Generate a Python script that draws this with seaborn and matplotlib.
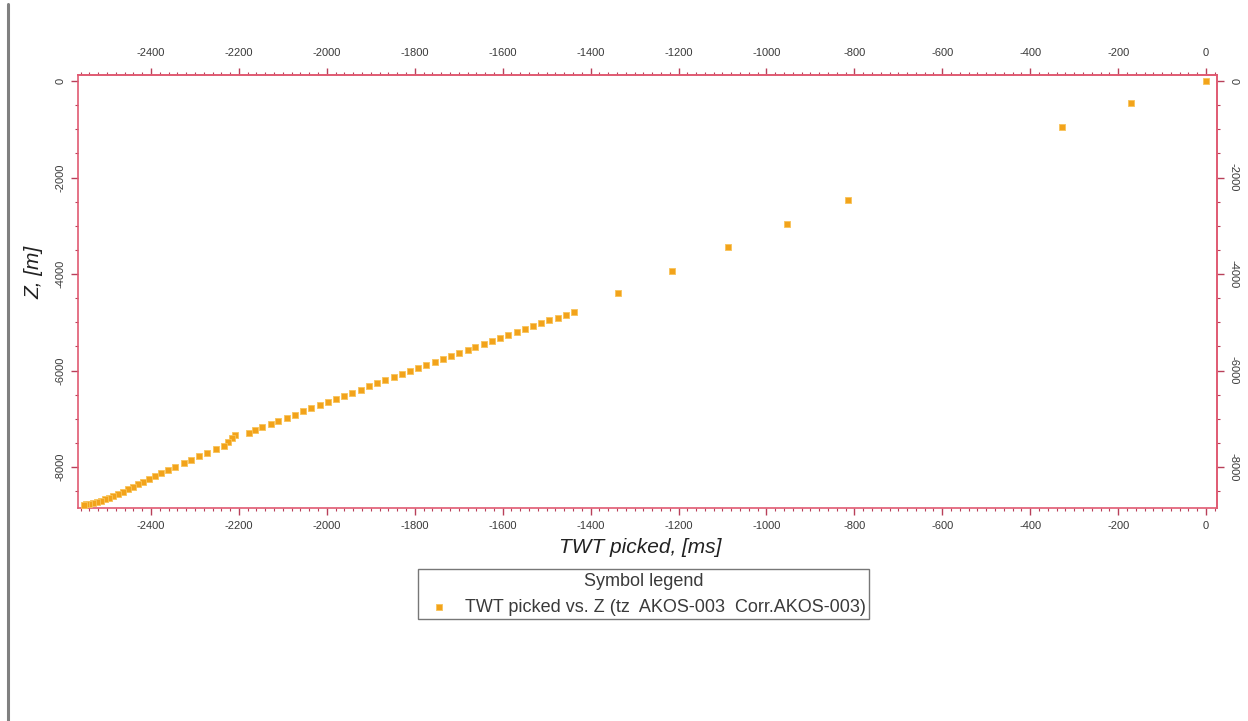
import matplotlib
matplotlib.use("Agg")
import matplotlib.pyplot as plt
from matplotlib.ticker import MultipleLocator
from matplotlib.lines import Line2D
import seaborn as sns

# TWT picked [ms] vs Z [m]
twt_ms = [0, -171, -328, -814, -953, -1087, -1215, -1338,
          -1438, -1456, -1475, -1494, -1512, -1531, -1550, -1568, -1587, -1606,
          -1624, -1643, -1662, -1680, -1699, -1718, -1736, -1755, -1774, -1792,
          -1811, -1830, -1848, -1867, -1886, -1904, -1923, -1942, -1960, -1979,
          -1998, -2016, -2035, -2054, -2072, -2091, -2110, -2128, -2147, -2163,
          -2178,
          -2208, -2215, -2224, -2235, -2253, -2272, -2290, -2308, -2326, -2345,
          -2361, -2377, -2390, -2404, -2418, -2429, -2441, -2452, -2463, -2475,
          -2486, -2495, -2505, -2514, -2523, -2532, -2541, -2548, -2553]
z_m = [0, -455, -952, -2460, -2960, -3437, -3933, -4389,
       -4783, -4841, -4902, -4963, -5021, -5083, -5145, -5203, -5265, -5328,
       -5387, -5450, -5512, -5572, -5635, -5699, -5759, -5823, -5886, -5947,
       -6011, -6076, -6137, -6202, -6267, -6329, -6394, -6459, -6522, -6587,
       -6653, -6716, -6783, -6849, -6912, -6979, -7046, -7110, -7177, -7232,
       -7288,
       -7329, -7391, -7474, -7557, -7629, -7702, -7774, -7847, -7919, -7992,
       -8054, -8116, -8178, -8240, -8302, -8354, -8406, -8458, -8509, -8551,
       -8592, -8634, -8665, -8696, -8716, -8737, -8758, -8768, -8778]

serie_label = "TWT picked vs. Z (tz  AKOS-003  Corr.AKOS-003)"

sns.set_style("white")
plt.rcParams["font.family"] = ["Liberation Sans", "DejaVu Sans"]
plt.rcParams["axes.unicode_minus"] = False

laranja = "#f2a31b"
cor_eixo = "#e05a72"
cor_tick = "#b8405a"
cor_texto = "#3a3a3a"

fig = plt.figure(figsize=(12.48, 7.21), dpi=100)
ax = fig.add_axes([0.0625, 0.2954, 0.9127, 0.6006])

sns.scatterplot(x=twt_ms, y=z_m, ax=ax, marker="s", s=17, color=laranja,
                edgecolor="#f8c45a", linewidth=0.6, label=serie_label, zorder=3)

ax.set_xlim(-2566, 25)
ax.set_ylim(-8850, 125)

for sp in ax.spines.values():
    sp.set_color(cor_eixo)
    sp.set_linewidth(1.2)

ax.xaxis.set_major_locator(MultipleLocator(200))
ax.xaxis.set_minor_locator(MultipleLocator(20))
ax.yaxis.set_major_locator(MultipleLocator(2000))
ax.yaxis.set_minor_locator(MultipleLocator(500))
ax.tick_params(which="both", direction="out", color=cor_tick, bottom=True, left=True)
ax.tick_params(which="major", length=5, width=1, labelsize=8, labelcolor=cor_texto, pad=4)
ax.tick_params(which="minor", length=2.5, width=0.8)
ax.tick_params(axis="y", labelrotation=90)
plt.setp(ax.get_yticklabels(), va="center")

# eixos de cima e da direita
topo = ax.secondary_xaxis("top")
topo.xaxis.set_major_locator(MultipleLocator(200))
topo.xaxis.set_minor_locator(MultipleLocator(20))
topo.tick_params(which="both", direction="out", color=cor_tick)
topo.tick_params(which="major", length=5, width=1, labelsize=8, labelcolor=cor_texto, pad=7)
topo.tick_params(which="minor", length=2.5, width=0.8)
topo.spines["top"].set_color(cor_eixo)
topo.spines["top"].set_linewidth(1.2)

direita = ax.secondary_yaxis("right")
direita.yaxis.set_major_locator(MultipleLocator(2000))
direita.yaxis.set_minor_locator(MultipleLocator(500))
direita.tick_params(which="both", direction="out", color=cor_tick)
direita.tick_params(which="major", length=5, width=1, labelsize=8, labelcolor=cor_texto, labelrotation=270)
direita.tick_params(which="minor", length=2.5, width=0.8)
direita.spines["right"].set_color(cor_eixo)
direita.spines["right"].set_linewidth(1.2)
plt.setp(direita.get_yticklabels(), va="center")

ax.set_xlabel("TWT picked, [ms]", fontsize=15, style="italic", color="#222222")
ax.xaxis.set_label_coords(0.4934, -0.069)
ax.set_ylabel("Z, [m]", fontsize=15, style="italic", color="#222222")
ax.yaxis.set_label_coords(-0.030, 0.545)

leg = ax.legend(title="Symbol legend", loc="upper center",
                bbox_to_anchor=(0.5156, 0.2108), bbox_transform=fig.transFigure,
                frameon=True, fancybox=False, edgecolor="#555555",
                fontsize=13, title_fontsize=13, borderpad=0.2,
                handletextpad=0.4, borderaxespad=0)
leg.get_frame().set_linewidth(1.0)
leg.get_title().set_color(cor_texto)
for t in leg.get_texts():
    t.set_color(cor_texto)

# linha cinza da borda esquerda da tela
fig.add_artist(Line2D([0.0068, 0.0068], [0.0, 0.995], transform=fig.transFigure,
                      color="#808080", linewidth=2.2))

plt.savefig("out.png", dpi=100)
